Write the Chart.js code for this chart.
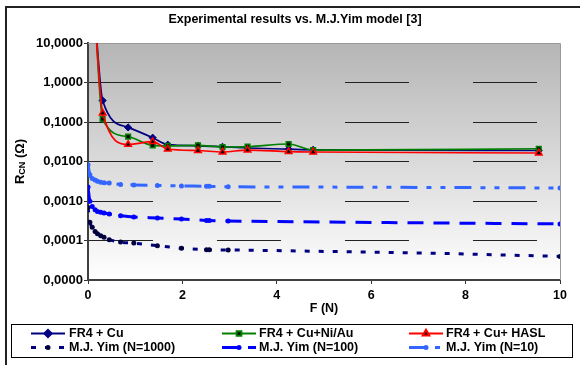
<!DOCTYPE html>
<html><head><meta charset="utf-8">
<script src="https://cdn.jsdelivr.net/npm/chart.js@4/dist/chart.umd.min.js"></script>
<style>
html,body{margin:0;padding:0;background:#fff;}
#wrap{position:relative;width:580px;height:365px;overflow:hidden;}
#frame{position:absolute;left:5px;top:6px;width:600px;height:400px;border-left:2px solid #222;border-top:2px solid #222;}
canvas{position:absolute;left:0;top:0;}
</style></head><body>
<div id="wrap"><div id="frame"></div><canvas id="c" width="580" height="365"></canvas></div>
<script>
// ---- data ----
const titleText = "Experimental results vs. M.J.Yim model [3]";
const xTitle = "F (N)";
const yTickValues = [0.00001, 0.0001, 0.001, 0.01, 0.1, 1, 10];
const xTickStep = 2;

const expF = [0.15, 0.31, 0.85, 1.37, 1.69, 2.33, 2.85, 3.38, 4.25, 4.77, 9.55];
const cuR    = [40, 0.35, 0.073, 0.040, 0.0266, 0.025, 0.0235, 0.022, 0.0205, 0.0198, 0.019];
const niAuR  = [40, 0.119, 0.0425, 0.0256, 0.025, 0.0256, 0.0233, 0.0237, 0.0277, 0.0195, 0.021];
const haslR  = [40, 0.169, 0.027, 0.0317, 0.0207, 0.019, 0.0174, 0.0195, 0.0178, 0.0174, 0.0164];

const modelF = [0, 0.04, 0.09, 0.15, 0.2, 0.27, 0.34, 0.45, 0.69, 0.97, 1.47, 1.98, 2.51, 2.57, 2.97, 5, 7.5, 10];
const yim1000 = [0.00068, 0.00029, 0.000215, 0.00017, 0.000149, 0.000132, 0.00012, 0.000105, 0.000091, 0.000086, 0.000074, 0.000064, 0.0000585, 0.000058, 0.0000575, 0.000053, 0.000047, 0.0000395];
const yim100  = [0.00226, 0.00098, 0.00073, 0.0006, 0.000546, 0.00052, 0.000497, 0.000468, 0.000425, 0.000394, 0.000372, 0.00035, 0.000323, 0.00032, 0.000312, 0.000295, 0.000277, 0.000263];
const yim10   = [0.0083, 0.0046, 0.0037, 0.0034, 0.00314, 0.003, 0.0029, 0.00285, 0.00262, 0.00255, 0.00248, 0.0024, 0.00236, 0.00235, 0.0023, 0.00225, 0.0022, 0.00213];

const labels = ["FR4 + Cu", "FR4 + Cu+Ni/Au", "FR4 + Cu+ HASL", "M.J. Yim (N=1000)", "M.J. Yim (N=100)", "M.J. Yim (N=10)"];

const pts = (xs, ys) => xs.map((x, i) => ({x: x, y: ys[i]}));
const modelRadius = ctx => { const r = ctx.raw; return (r && r.x > 3 && r.x < 10) ? 0 : 2.5; };

const datasets = [
  {label: labels[0], data: pts(expF, cuR), borderColor: '#000080', borderWidth: 1.7, pointStyle: 'rectRot', pointRadius: 3.6, pointBackgroundColor: '#000080', pointBorderColor: '#000080', pointBorderWidth: 1, tension: 0.4, cubicInterpolationMode: 'monotone', order: 3},
  {label: labels[1], data: pts(expF, niAuR), borderColor: '#008000', borderWidth: 1.7, pointStyle: 'rect', pointRadius: 3.3, pointBackgroundColor: '#000000', pointBorderColor: '#008000', pointBorderWidth: 1.5, tension: 0.4, cubicInterpolationMode: 'monotone', order: 2},
  {label: labels[2], data: pts(expF, haslR), borderColor: '#ff0000', borderWidth: 1.7, pointStyle: 'triangle', pointRadius: 3.8, pointBackgroundColor: '#000000', pointBorderColor: '#ff0000', pointBorderWidth: 1.5, tension: 0.4, cubicInterpolationMode: 'monotone', order: 1},
  {label: labels[3], data: pts(modelF, yim1000), borderColor: '#000080', borderWidth: 3, borderDash: [5, 9], pointStyle: 'circle', pointRadius: modelRadius, pointBackgroundColor: '#000040', pointBorderColor: '#000040', pointBorderWidth: 0, tension: 0.3, cubicInterpolationMode: 'monotone', order: 6},
  {label: labels[4], data: pts(modelF, yim100), borderColor: '#0000ff', borderWidth: 3, borderDash: [16, 10], pointStyle: 'circle', pointRadius: modelRadius, pointBackgroundColor: '#0000ff', pointBorderColor: '#0000ff', pointBorderWidth: 0, tension: 0.3, cubicInterpolationMode: 'monotone', order: 5},
  {label: labels[5], data: pts(modelF, yim10), borderColor: '#3366ff', borderWidth: 3, borderDash: [17, 9, 5, 9, 5, 9], pointStyle: 'circle', pointRadius: modelRadius, pointBackgroundColor: '#3366ff', pointBorderColor: '#3366ff', pointBorderWidth: 0, tension: 0.3, cubicInterpolationMode: 'monotone', order: 4}
];

const FONT = '"Liberation Sans", Arial, sans-serif';

const decor = {
  id: 'decor',
  beforeDraw(chart) {
    const {ctx, chartArea: a} = chart;
    const g = ctx.createLinearGradient(0, a.top, 0, a.bottom);
    g.addColorStop(0, '#b5b5b5');
    g.addColorStop(1, '#ffffff');
    ctx.save();
    ctx.fillStyle = g;
    ctx.fillRect(a.left, a.top, a.right - a.left, a.bottom - a.top);
    ctx.restore();
  },
  beforeDatasetsDraw(chart) {
    const {ctx, chartArea: a} = chart;
    ctx.save();
    ctx.strokeStyle = '#999999';
    ctx.lineWidth = 1;
    ctx.beginPath();
    ctx.moveTo(a.left, a.top + 0.5); ctx.lineTo(a.right + 0.5, a.top + 0.5);
    ctx.lineTo(a.right + 0.5, a.bottom);
    ctx.stroke();
    ctx.restore();
  },
  afterDraw(chart) {
    const {ctx, chartArea: a} = chart;
    ctx.save();
    ctx.fillStyle = '#000';
    ctx.textBaseline = 'middle';
    // title
    ctx.font = 'bold 12.5px ' + FONT;
    ctx.textAlign = 'center';
    ctx.fillText(titleText, 295, 20);
    // x title
    ctx.fillText(xTitle, (a.left + a.right) / 2, 309);
    // y title with subscript
    ctx.save();
    ctx.translate(20, (a.top + a.bottom) / 2);
    ctx.rotate(-Math.PI / 2);
    ctx.textAlign = 'left';
    ctx.textBaseline = 'alphabetic';
    const f1 = 'bold 13px ' + FONT, f2 = 'bold 9px ' + FONT;
    ctx.font = f1; const wR = ctx.measureText('R').width; const wT = ctx.measureText(' (\u03a9)').width;
    ctx.font = f2; const wS = ctx.measureText('CN').width;
    let x0 = -(wR + wS + wT) / 2;
    ctx.font = f1; ctx.fillText('R', x0, 4);
    ctx.font = f2; ctx.fillText('CN', x0 + wR, 5);
    ctx.font = f1; ctx.fillText(' (\u03a9)', x0 + wR + wS, 4);
    ctx.restore();
    // legend box
    ctx.strokeStyle = '#000';
    ctx.lineWidth = 1;
    ctx.strokeRect(11.5, 324.5, 561, 33);
    const cols = [[31, 65, 69], [222, 256, 259], [409, 443, 446]];
    const rows = [333.5, 347.5];
    chart.data.datasets.forEach((ds, i) => {
      const c = cols[i % 3], y = rows[Math.floor(i / 3)];
      ctx.save();
      ctx.beginPath();
      ctx.setLineDash(ds.borderDash || []);
      ctx.strokeStyle = ds.borderColor;
      ctx.lineWidth = i < 3 ? 2 : 3;
      ctx.moveTo(c[0], y); ctx.lineTo(c[1], y);
      ctx.stroke();
      ctx.setLineDash([]);
      ctx.fillStyle = ds.pointBackgroundColor;
      ctx.strokeStyle = ds.pointBorderColor;
      const r = i < 3 ? ds.pointRadius : 2.5;
      Chart.helpers.drawPoint(ctx, {pointStyle: ds.pointStyle, rotation: 0, radius: r, borderWidth: ds.pointBorderWidth}, (c[0] + c[1]) / 2, y);
      ctx.restore();
      ctx.fillStyle = '#000';
      ctx.font = 'bold 12.5px ' + FONT;
      ctx.textAlign = 'left';
      ctx.textBaseline = 'middle';
      ctx.fillText(ds.label, c[2], y + 0.5);
    });
    ctx.restore();
  }
};

new Chart(document.getElementById('c'), {
  type: 'line',
  data: {datasets},
  options: {
    responsive: false,
    animation: false,
    events: [],
    layout: {padding: {left: 0, right: 20, top: 43, bottom: 0}},
    plugins: {legend: {display: false}, title: {display: false}, tooltip: {enabled: false}},
    scales: {
      x: {
        type: 'linear', min: 0, max: 10,
        afterFit: s => { s.height = 85; },
        ticks: {stepSize: xTickStep, color: '#000', font: {family: FONT, size: 12.5, weight: 'bold'}, padding: 4, maxRotation: 0},
        grid: {display: true, drawOnChartArea: false, drawTicks: true, tickLength: 4, color: '#333', tickColor: '#333'},
        border: {display: true, color: '#404040', width: 2}
      },
      y: {
        type: 'logarithmic', min: 0.00001, max: 10,
        afterFit: s => { s.width = 88; },
        afterBuildTicks: s => { s.ticks = yTickValues.map(v => ({value: v, major: true})); },
        ticks: {color: '#000', font: {family: FONT, size: 13, weight: 'bold'}, padding: 1,
          callback: v => Number(v).toFixed(4).replace('.', ',')},
        grid: {display: true, drawOnChartArea: true, drawTicks: true, tickLength: 4, color: '#222', tickColor: '#333', lineWidth: 1, tickBorderDash: [10, 0]},
        border: {display: true, color: '#404040', width: 2, dash: [64, 64]}
      }
    }
  },
  plugins: [decor]
});
</script>
</body></html>
